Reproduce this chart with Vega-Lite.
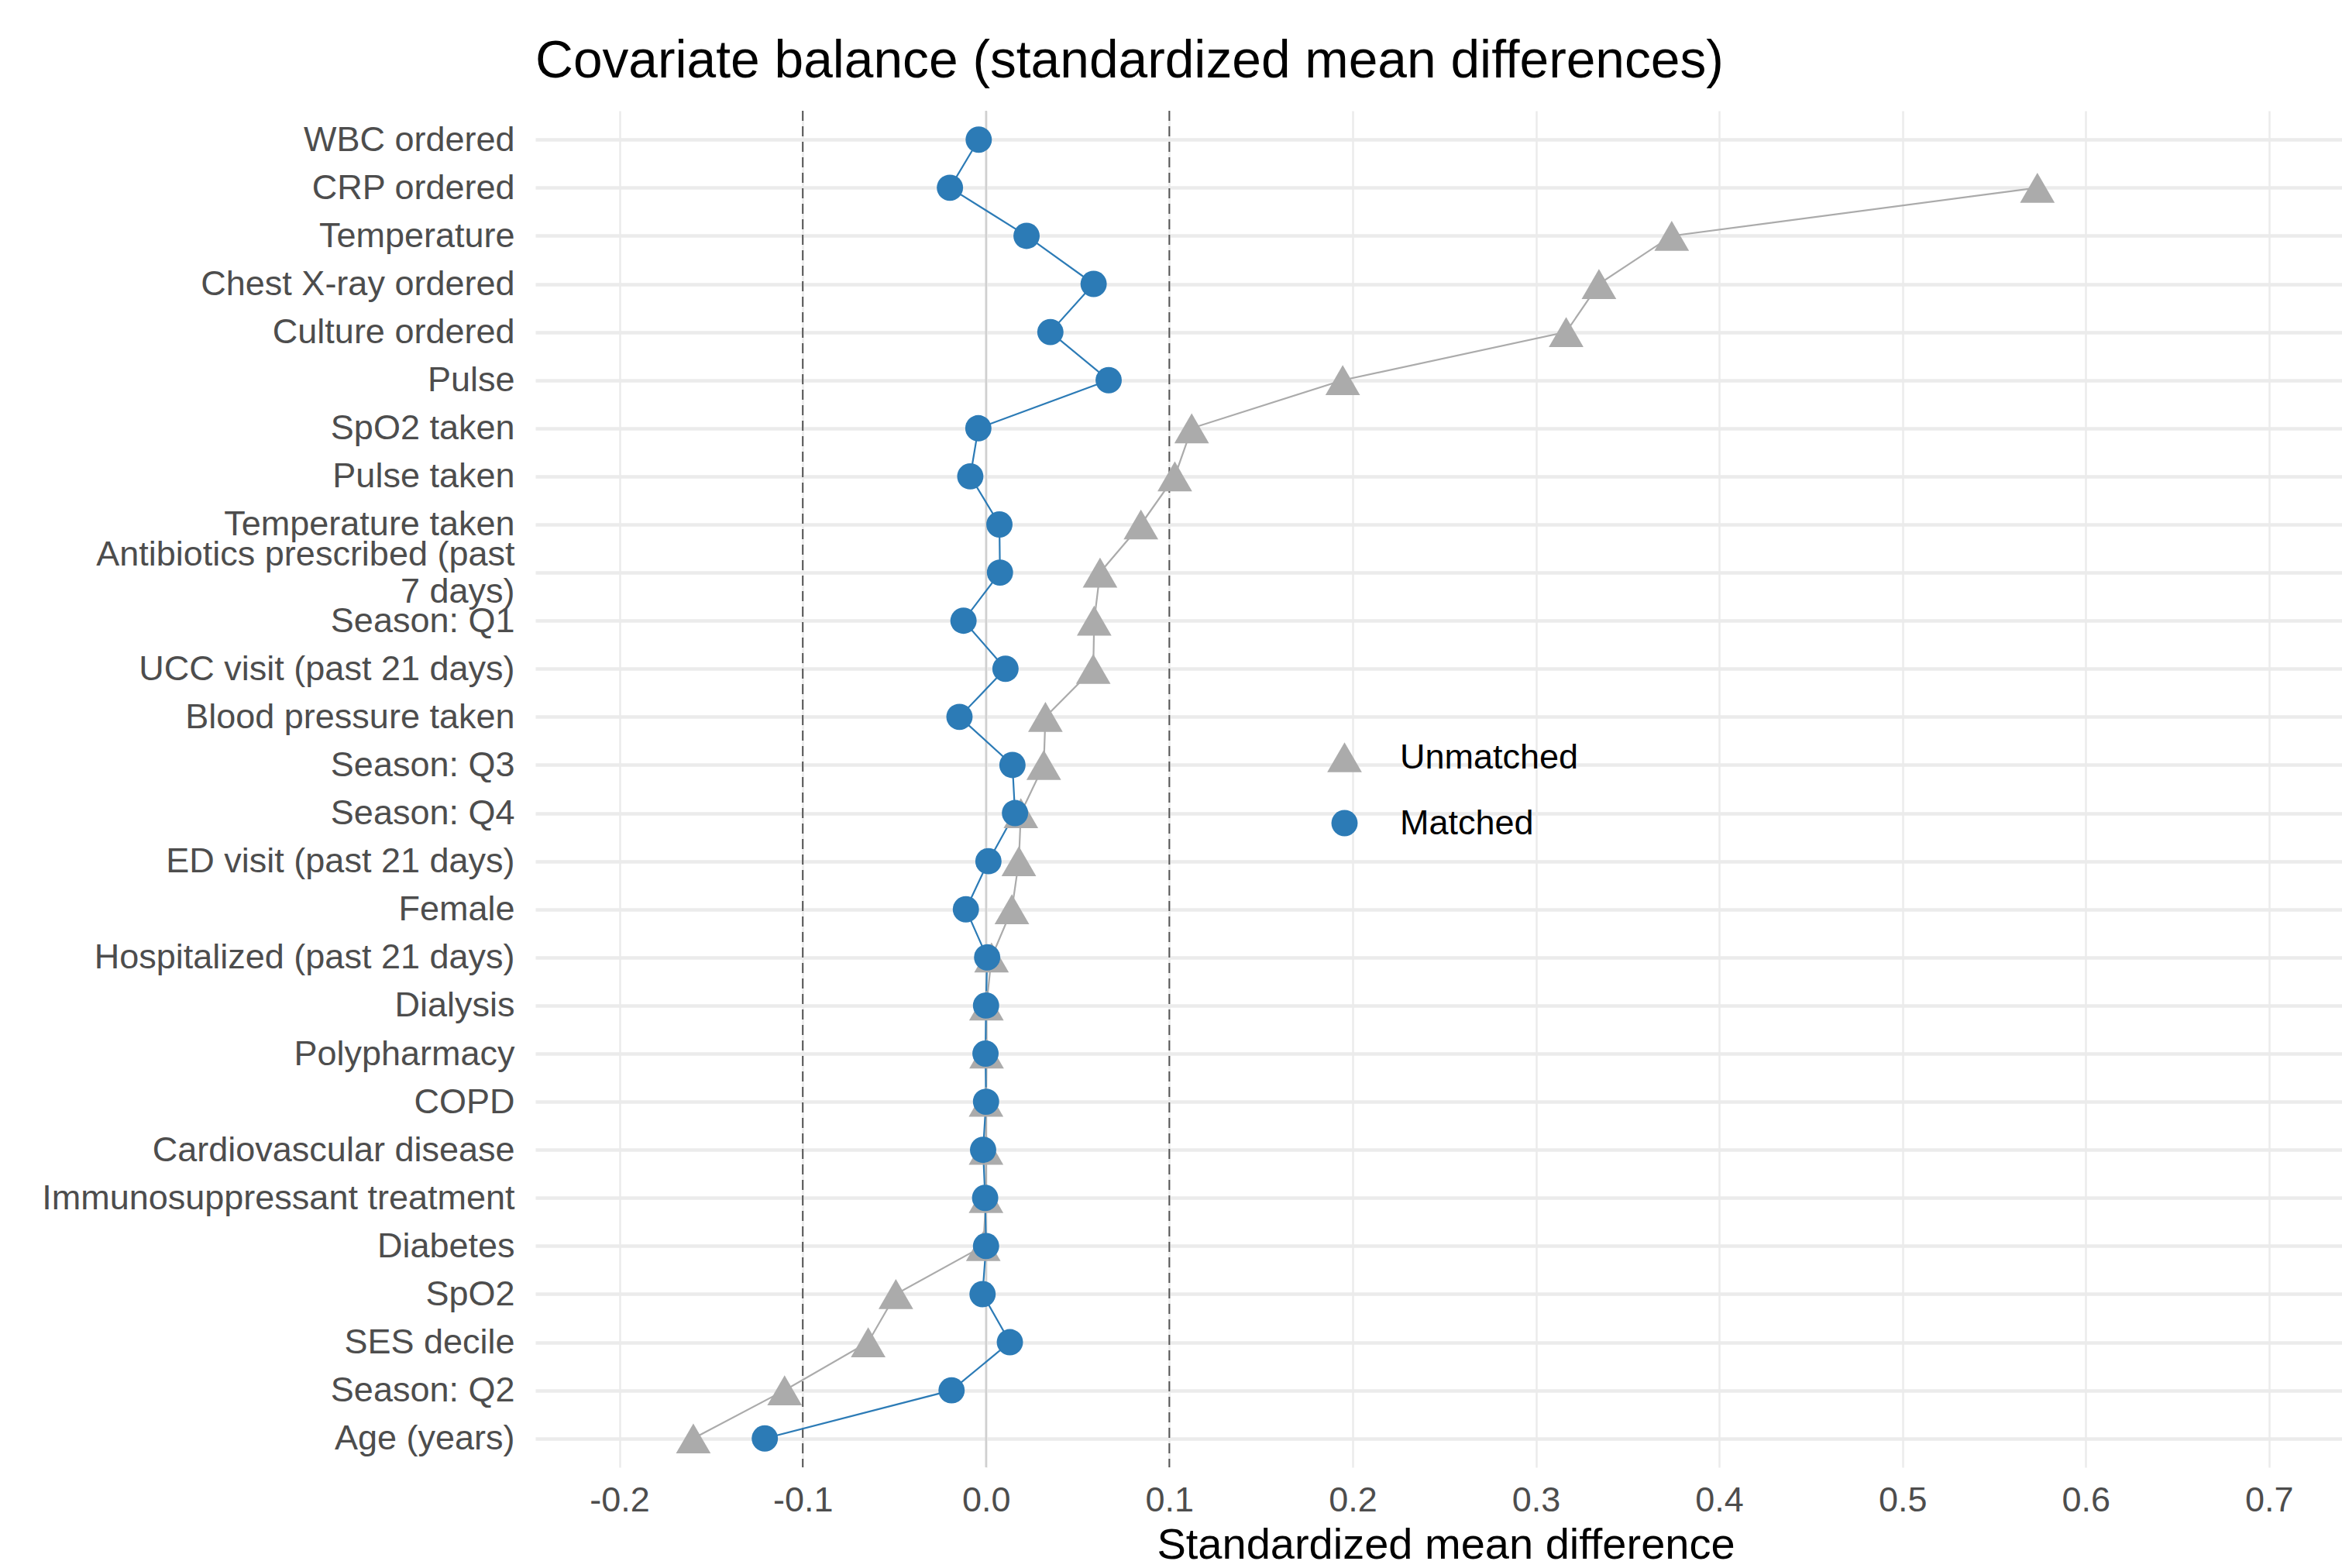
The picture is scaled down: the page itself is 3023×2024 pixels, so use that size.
{
  "$schema": "https://vega.github.io/schema/vega-lite/v6.json",
  "autosize": {"type": "none"},
  "padding": {"left": 691, "top": 143, "right": 0, "bottom": 130},
  "width": 2332,
  "height": 1751,
  "background": "white",
  "config": {
    "view": {"stroke": null},
    "font": "Liberation Sans",
    "legend": {"orient": "none", "legendX": 1022, "legendY": 812,
      "labelFontSize": 45, "labelFont": "Liberation Sans", "labelColor": "#000000",
      "labelOffset": 49, "rowPadding": 39, "padding": 0, "symbolOpacity": 1,
      "symbolStrokeWidth": 0, "labelLimit": 600}
  },
  "title": {"text": "Covariate balance (standardized mean differences)", "anchor": "start", "frame": "group", "fontSize": 67.7, "font": "Liberation Sans", "fontWeight": "normal", "color": "#000000", "offset": 27},
  "data": {"values": [
    {"covariate": "CRP ordered", "group": "Unmatched", "smd": 0.5736},
    {"covariate": "Temperature", "group": "Unmatched", "smd": 0.3741},
    {"covariate": "Chest X-ray ordered", "group": "Unmatched", "smd": 0.3344},
    {"covariate": "Culture ordered", "group": "Unmatched", "smd": 0.3165},
    {"covariate": "Pulse", "group": "Unmatched", "smd": 0.1946},
    {"covariate": "SpO2 taken", "group": "Unmatched", "smd": 0.1122},
    {"covariate": "Pulse taken", "group": "Unmatched", "smd": 0.1030},
    {"covariate": "Temperature taken", "group": "Unmatched", "smd": 0.0845},
    {"covariate": "Antibiotics prescribed (past 7 days)", "group": "Unmatched", "smd": 0.0622},
    {"covariate": "Season: Q1", "group": "Unmatched", "smd": 0.0590},
    {"covariate": "UCC visit (past 21 days)", "group": "Unmatched", "smd": 0.0585},
    {"covariate": "Blood pressure taken", "group": "Unmatched", "smd": 0.0324},
    {"covariate": "Season: Q3", "group": "Unmatched", "smd": 0.0315},
    {"covariate": "Season: Q4", "group": "Unmatched", "smd": 0.0190},
    {"covariate": "ED visit (past 21 days)", "group": "Unmatched", "smd": 0.0179},
    {"covariate": "Female", "group": "Unmatched", "smd": 0.0141},
    {"covariate": "Hospitalized (past 21 days)", "group": "Unmatched", "smd": 0.0030},
    {"covariate": "Dialysis", "group": "Unmatched", "smd": 0.0002},
    {"covariate": "Polypharmacy", "group": "Unmatched", "smd": 0.0003},
    {"covariate": "COPD", "group": "Unmatched", "smd": 0.0},
    {"covariate": "Cardiovascular disease", "group": "Unmatched", "smd": 0.0},
    {"covariate": "Immunosuppressant treatment", "group": "Unmatched", "smd": 0.0},
    {"covariate": "Diabetes", "group": "Unmatched", "smd": -0.0015},
    {"covariate": "SpO2", "group": "Unmatched", "smd": -0.0492},
    {"covariate": "SES decile", "group": "Unmatched", "smd": -0.0643},
    {"covariate": "Season: Q2", "group": "Unmatched", "smd": -0.1099},
    {"covariate": "Age (years)", "group": "Unmatched", "smd": -0.1597},
    {"covariate": "WBC ordered", "group": "Matched", "smd": -0.0040},
    {"covariate": "CRP ordered", "group": "Matched", "smd": -0.0197},
    {"covariate": "Temperature", "group": "Matched", "smd": 0.0221},
    {"covariate": "Chest X-ray ordered", "group": "Matched", "smd": 0.0587},
    {"covariate": "Culture ordered", "group": "Matched", "smd": 0.0351},
    {"covariate": "Pulse", "group": "Matched", "smd": 0.0669},
    {"covariate": "SpO2 taken", "group": "Matched", "smd": -0.0042},
    {"covariate": "Pulse taken", "group": "Matched", "smd": -0.0086},
    {"covariate": "Temperature taken", "group": "Matched", "smd": 0.0073},
    {"covariate": "Antibiotics prescribed (past 7 days)", "group": "Matched", "smd": 0.0076},
    {"covariate": "Season: Q1", "group": "Matched", "smd": -0.0123},
    {"covariate": "UCC visit (past 21 days)", "group": "Matched", "smd": 0.0106},
    {"covariate": "Blood pressure taken", "group": "Matched", "smd": -0.0145},
    {"covariate": "Season: Q3", "group": "Matched", "smd": 0.0144},
    {"covariate": "Season: Q4", "group": "Matched", "smd": 0.0158},
    {"covariate": "ED visit (past 21 days)", "group": "Matched", "smd": 0.0013},
    {"covariate": "Female", "group": "Matched", "smd": -0.0110},
    {"covariate": "Hospitalized (past 21 days)", "group": "Matched", "smd": 0.0006},
    {"covariate": "Dialysis", "group": "Matched", "smd": 0.0},
    {"covariate": "Polypharmacy", "group": "Matched", "smd": -0.0003},
    {"covariate": "COPD", "group": "Matched", "smd": 0.0},
    {"covariate": "Cardiovascular disease", "group": "Matched", "smd": -0.0016},
    {"covariate": "Immunosuppressant treatment", "group": "Matched", "smd": -0.0005},
    {"covariate": "Diabetes", "group": "Matched", "smd": 0.0},
    {"covariate": "SpO2", "group": "Matched", "smd": -0.0019},
    {"covariate": "SES decile", "group": "Matched", "smd": 0.0130},
    {"covariate": "Season: Q2", "group": "Matched", "smd": -0.0188},
    {"covariate": "Age (years)", "group": "Matched", "smd": -0.1207}
  ]},
  "layer": [
    {
      "data": {"values": [{"smd": 0}]},
      "mark": {"type": "rule", "color": "#D0D0D0", "strokeWidth": 2.5},
      "encoding": {
        "x": {"field": "smd", "type": "quantitative",
          "scale": {"domain": [-0.2459, 0.7398], "nice": false, "zero": false},
          "axis": {
            "values": [-0.2, -0.1, 0, 0.1, 0.2, 0.3, 0.4, 0.5, 0.6, 0.7],
            "labelExpr": "(datum.value < 0 ? '-' : '') + format(abs(datum.value), '.1f')",
            "labelFontSize": 45, "labelColor": "#4D4D4D", "labelFont": "Liberation Sans",
            "labelPadding": 20, "ticks": false, "tickSize": 0, "domain": false,
            "grid": true, "gridColor": "#EBEBEB", "gridWidth": 2.5,
            "labelFlush": false, "labelOverlap": false,
            "title": "Standardized mean difference", "titleFontSize": 56, "titleFont": "Liberation Sans",
            "titleFontWeight": "normal", "titleColor": "#000000", "titlePadding": 8, "titleX": 1175
          }
        }
      }
    },
    {
      "data": {"values": [{"smd": -0.1}, {"smd": 0.1}]},
      "mark": {"type": "rule", "color": "#555555", "strokeWidth": 2, "strokeDash": [13, 7]},
      "encoding": {"x": {"field": "smd", "type": "quantitative"}}
    },
    {
      "mark": {"type": "line", "strokeWidth": 2.2},
      "encoding": {
        "x": {"field": "smd", "type": "quantitative"},
        "y": {"field": "covariate", "type": "nominal",
          "scale": {"type": "point", "padding": 0.6, "domain": ["WBC ordered", "CRP ordered", "Temperature", "Chest X-ray ordered", "Culture ordered", "Pulse", "SpO2 taken", "Pulse taken", "Temperature taken", "Antibiotics prescribed (past 7 days)", "Season: Q1", "UCC visit (past 21 days)", "Blood pressure taken", "Season: Q3", "Season: Q4", "ED visit (past 21 days)", "Female", "Hospitalized (past 21 days)", "Dialysis", "Polypharmacy", "COPD", "Cardiovascular disease", "Immunosuppressant treatment", "Diabetes", "SpO2", "SES decile", "Season: Q2", "Age (years)"]},
          "axis": {
            "title": null, "labelFontSize": 45, "labelColor": "#4D4D4D", "labelFont": "Liberation Sans",
            "labelPadding": 27, "ticks": false, "tickSize": 0, "domain": false,
            "grid": true, "gridColor": "#EBEBEB", "gridWidth": 4.5,
            "labelLimit": 1000, "labelOverlap": false, "labelLineHeight": 48,
            "labelOffset": {"condition": {"test": "datum.value == 'Antibiotics prescribed (past 7 days)'", "value": -24}, "value": 0},
            "labelExpr": "datum.value == 'Antibiotics prescribed (past 7 days)' ? ['Antibiotics prescribed (past', '7 days)'] : datum.label"
          }
        },
        "detail": {"field": "group", "type": "nominal"},
        "stroke": {"condition": {"test": "datum.group == 'Matched'", "value": "#2C7BB6"}, "value": "#ABABAB"},
        "order": {"value": null}
      }
    },
    {
      "mark": {"type": "point", "filled": true, "opacity": 1, "strokeWidth": 0},
      "encoding": {
        "x": {"field": "smd", "type": "quantitative"},
        "y": {"field": "covariate", "type": "nominal"},
        "color": {"field": "group", "type": "nominal", "title": null,
          "scale": {"domain": ["Unmatched", "Matched"], "range": ["#ABABAB", "#2C7BB6"]}},
        "shape": {"field": "group", "type": "nominal", "title": null,
          "scale": {"domain": ["Unmatched", "Matched"], "range": ["triangle-up", "circle"]}},
        "size": {"field": "group", "type": "nominal", "title": null,
          "scale": {"domain": ["Unmatched", "Matched"], "range": [2000, 1150]}}
      }
    }
  ]
}
